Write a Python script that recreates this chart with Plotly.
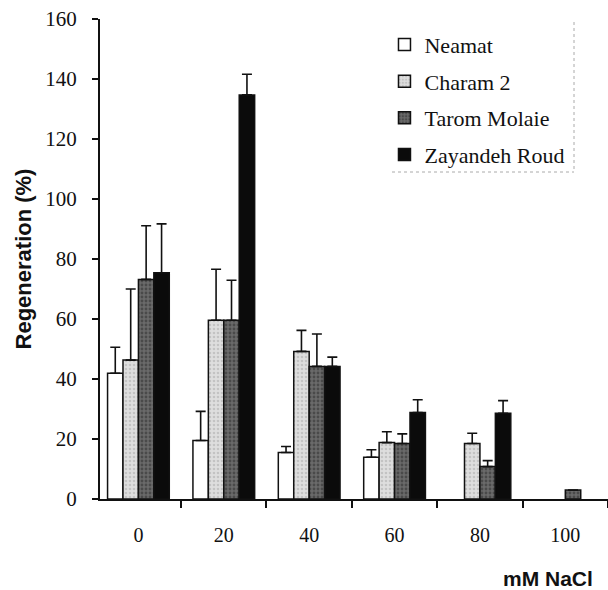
import plotly.graph_objects as go

categories = ["0", "20", "40", "60", "80", "100"]
series_names = ["Neamat", "Charam 2", "Tarom Molaie", "Zayandeh Roud"]

neamat = [41.9, 19.5, 15.5, 13.9, None, None]
neamat_err = [8.7, 9.7, 2.0, 2.5, None, None]
charam = [46.3, 59.6, 49.2, 18.8, 18.5, None]
charam_err = [23.7, 17.0, 7.0, 3.6, 3.4, None]
tarom = [73.2, 59.6, 44.2, 18.5, 10.8, 3.0]
tarom_err = [17.9, 13.3, 10.8, 3.2, 2.0, 0]
zayandeh = [75.4, 134.7, 44.2, 28.8, 28.6, None]
zayandeh_err = [16.3, 6.9, 3.1, 4.3, 4.2, None]

y_ticks = [0, 20, 40, 60, 80, 100, 120, 140, 160]

values = [neamat, charam, tarom, zayandeh]
errors = [neamat_err, charam_err, tarom_err, zayandeh_err]
fills = [
    dict(color="#ffffff"),
    dict(color="#d6d6d6", pattern=dict(shape=".", fgcolor="#a8a8a8", bgcolor="#dedede", size=4, solidity=0.35)),
    dict(color="#555555", pattern=dict(shape=".", fgcolor="#2a2a2a", bgcolor="#6a6a6a", size=4, solidity=0.4)),
    dict(color="#0b0b0b"),
]

fig = go.Figure()
for i, (name, v, e, f) in enumerate(zip(series_names, values, errors, fills)):
    marker = dict(line=dict(color="#111111", width=1.5))
    marker.update(f)
    fig.add_trace(go.Bar(
        x=categories, y=v, name=name, legendgroup=name,
        marker=marker,
        error_y=dict(type="data", symmetric=False, array=e,
                     arrayminus=[0] * len(e), color="#111111",
                     thickness=1.6, width=5),
    ))

serif = "Liberation Serif, Times New Roman, serif"
sans = "Liberation Sans, Arial, sans-serif"

fig.update_layout(
    width=608, height=590,
    margin=dict(l=100, r=0, t=19, b=91),
    paper_bgcolor="white", plot_bgcolor="white",
    barmode="group", bargap=0.277, bargroupgap=0,
    showlegend=True,
    legend=dict(x=0.56, y=0.99, xanchor="left", yanchor="top",
                font=dict(family=serif, size=22, color="#111111"),
                bgcolor="rgba(255,255,255,0)", borderwidth=0,
                tracegroupgap=5, traceorder="grouped"),
    xaxis=dict(type="category", range=[-0.45, 5.5],
               showline=True, linecolor="#111111", linewidth=2,
               ticks="outside", tickson="boundaries", ticklen=7,
               tickwidth=1.6, tickcolor="#111111",
               tickfont=dict(family=serif, size=20, color="#111111"),
               ticklabelstandoff=17, showgrid=False, zeroline=False),
    yaxis=dict(range=[0, 160], tickvals=y_ticks,
               showline=True, linecolor="#111111", linewidth=2,
               ticks="outside", ticklen=6, tickwidth=1.6, tickcolor="#111111",
               tickfont=dict(family=serif, size=21, color="#111111"),
               ticklabelstandoff=11, showgrid=False, zeroline=False,
               title=dict(text="<b>Regeneration (%)</b>", standoff=8,
                          font=dict(family=sans, size=22, color="#111111"))),
    annotations=[dict(text="<b>mM NaCl</b>", xref="paper", yref="paper",
                      x=0.974, y=-0.165, xanchor="right", yanchor="middle",
                      showarrow=False,
                      font=dict(family=sans, size=21, color="#111111"))],
    shapes=[
        dict(type="line", xref="paper", yref="paper",
             x0=(574 - 100) / 508, x1=(574 - 100) / 508,
             y0=(499 - 22) / 480, y1=(499 - 172) / 480,
             line=dict(color="#aaaaaa", width=1, dash="dot")),
        dict(type="line", xref="paper", yref="paper",
             x0=(392 - 100) / 508, x1=(574 - 100) / 508,
             y0=(499 - 172) / 480, y1=(499 - 172) / 480,
             line=dict(color="#aaaaaa", width=1, dash="dot")),
    ],
)

fig.write_html("out.html", config={"displayModeBar": False},
               post_script="document.body.style.margin='0';")
